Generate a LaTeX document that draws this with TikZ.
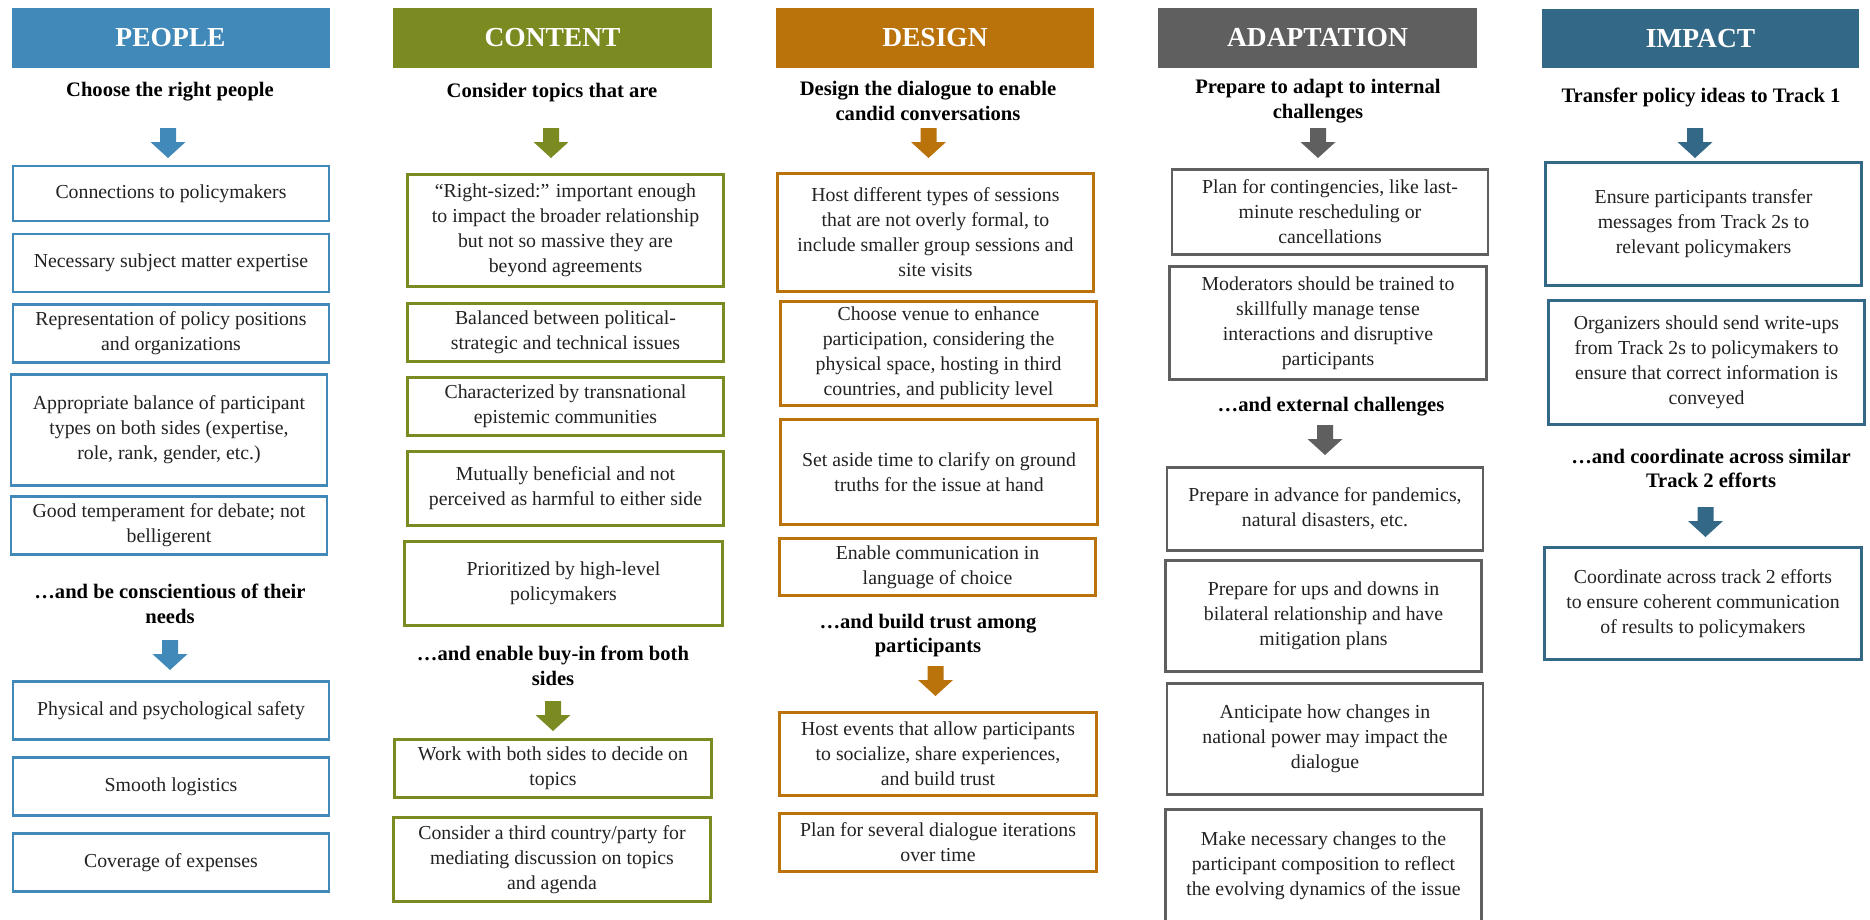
\documentclass[tikz,border=0pt]{standalone}
\usepackage{fontspec}
\setmainfont{Liberation Serif}
\usepackage{tikz}
\definecolor{pplc}{HTML}{4189B9}
\definecolor{cntc}{HTML}{7B8B22}
\definecolor{dsnc}{HTML}{BA720B}
\definecolor{adpc}{HTML}{5F5F5F}
\definecolor{impc}{HTML}{336887}
\definecolor{txtc}{HTML}{222222}
\newcommand{\bodysz}{\fontsize{19.8}{25}\selectfont}
\newcommand{\subsz}{\fontsize{20.6}{24.5}\selectfont}

\begin{document}
\begin{tikzpicture}[x=1pt,y=-1pt,
  hdr/.style={fill=#1,text=white,font=\fontsize{27.5}{32}\selectfont\bfseries,
    minimum width=318pt,minimum height=60pt,inner sep=0pt},
  sub/.style={font=\subsz\bfseries,align=center,inner sep=0pt,text=black},
  item/.style={draw=#1,line width=2.6pt,align=center,inner sep=1pt,
    font=\bodysz,text=txtc,minimum width=316pt},
  pics/blockdown/.style={code={
    \fill[#1] (-8,0) -- (8,0) -- (8,14) -- (17.5,14) -- (0,30) -- (-17.5,14) -- (-8,14) -- cycle;}}]
  \useasboundingbox (0,0) rectangle (1870,919);
  \clip (0,0) rectangle (1870,919);
  \fill[white] (0,0) rectangle (1870,919);

  % PEOPLE
  \node[hdr=pplc] (ph) at (170.5,38) {PEOPLE};
  \node[sub] (ps1) at (170,92) {Choose the right people};
  \pic at (168,128) {blockdown=pplc};
  \node[item=pplc,minimum height=55pt] (p1) at (171,193.5) {Connections to policymakers};
  \node[item=pplc,minimum height=58pt] (p2) at (171,263) {Necessary subject matter expertise};
  \node[item=pplc,minimum height=58pt] (p3) at (171,333.5) {Representation of policy positions\\and organizations};
  \node[item=pplc,minimum height=111pt] (p4) at (169,430) {Appropriate balance of participant\\types on both sides (expertise,\\role, rank, gender, etc.)};
  \node[item=pplc,minimum height=58pt] (p5) at (169,525.5) {Good temperament for debate; not\\belligerent};
  \node[sub] (ps2) at (170,604) {…and be conscientious of their\\needs};
  \pic at (170,640) {blockdown=pplc};
  \node[item=pplc,minimum height=58pt] (p6) at (171,710.5) {Physical and psychological safety};
  \node[item=pplc,minimum height=58pt] (p7) at (171,786.5) {Smooth logistics};
  \node[item=pplc,minimum height=58pt] (p8) at (171,862.5) {Coverage of expenses};

  % CONTENT
  \node[hdr=cntc,minimum width=319pt] (ch) at (552.5,38) {CONTENT};
  \node[sub] (cs1) at (552,93) {Consider topics that are};
  \pic at (551,128) {blockdown=cntc};
  \node[item=cntc,minimum height=112pt] (c1) at (565.5,230.5) {“Right-sized:” important enough\\to impact the broader relationship\\but not so massive they are\\beyond agreements};
  \node[item=cntc,minimum height=58pt] (c2) at (565.5,332.5) {Balanced between political-\\strategic and technical issues};
  \node[item=cntc,minimum height=58pt] (c3) at (565.5,406.5) {Characterized by transnational\\epistemic communities};
  \node[item=cntc,minimum height=74pt] (c4) at (565.5,488.5) {Mutually beneficial and not\\perceived as harmful to either side};
  \node[item=cntc,minimum height=84pt,minimum width=318pt] (c5) at (563.5,583.5) {Prioritized by high-level\\policymakers};
  \node[sub] (cs2) at (553,666) {…and enable buy-in from both\\sides};
  \pic at (553,701) {blockdown=cntc};
  \node[item=cntc,minimum height=58pt,minimum width=317pt] (c6) at (553,768.5) {Work with both sides to decide on\\topics};
  \node[item=cntc,minimum height=84pt,minimum width=317pt] (c7) at (552,859.5) {Consider a third country/party for\\mediating discussion on topics\\and agenda};

  % DESIGN
  \node[hdr=dsnc] (dh) at (935,38) {DESIGN};
  \node[sub] (ds1) at (928,101) {Design the dialogue to enable\\candid conversations};
  \pic at (928.5,128) {blockdown=dsnc};
  \node[item=dsnc,minimum height=118pt] (d1) at (935.5,232.5) {Host different types of sessions\\that are not overly formal, to\\include smaller group sessions and\\site visits};
  \node[item=dsnc,minimum height=104pt] (d2) at (938.5,353.5) {Choose venue to enhance\\participation, considering the\\physical space, hosting in third\\countries, and publicity level};
  \node[item=dsnc,minimum height=105pt,minimum width=317pt] (d3) at (939,472) {Set aside time to clarify on ground\\truths for the issue at hand};
  \node[item=dsnc,minimum height=57pt] (d4) at (937.5,567) {Enable communication in\\language of choice};
  \node[sub] (ds2) at (928,635.5) {…and build trust among\\participants};
  \pic at (935.5,666) {blockdown=dsnc};
  \node[item=dsnc,minimum height=83pt,minimum width=317pt] (d5) at (938,754) {Host events that allow participants\\to socialize, share experiences,\\and build trust};
  \node[item=dsnc,minimum height=58pt,minimum width=317pt] (d6) at (938,842.5) {Plan for several dialogue iterations\\over time};

  % ADAPTATION
  \node[hdr=adpc,minimum width=319pt] (ah) at (1317.5,38) {ADAPTATION};
  \node[sub] (as1) at (1318,101) {Prepare to adapt to internal\\challenges};
  \pic at (1318,128) {blockdown=adpc};
  \node[item=adpc,minimum height=85pt] (a1) at (1330,212) {Plan for contingencies, like last-\\minute rescheduling or\\cancellations};
  \node[item=adpc,minimum height=113pt,minimum width=317pt] (a2) at (1328,323) {Moderators should be trained to\\skillfully manage tense\\interactions and disruptive\\participants};
  \node[sub] (as2) at (1331,407) {…and external challenges};
  \pic at (1325,425) {blockdown=adpc};
  \node[item=adpc,minimum height=83pt] (a3) at (1325,509) {Prepare in advance for pandemics,\\natural disasters, etc.};
  \node[item=adpc,minimum height=111pt] (a4) at (1323.5,616) {Prepare for ups and downs in\\bilateral relationship and have\\mitigation plans};
  \node[item=adpc,minimum height=111pt] (a5) at (1325,739) {Anticipate how changes in\\national power may impact the\\dialogue};
  \node[item=adpc,minimum height=113pt] (a6) at (1323.5,866) {Make necessary changes to the\\participant composition to reflect\\the evolving dynamics of the issue};

  % IMPACT
  \node[hdr=impc,minimum width=317pt,minimum height=59pt] (ih) at (1700.5,38.5) {IMPACT};
  \node[sub] (is1) at (1701,97) {Transfer policy ideas to Track 1};
  \pic at (1695,128) {blockdown=impc};
  \node[item=impc,minimum height=123pt] (i1) at (1703.5,224) {Ensure participants transfer\\messages from Track 2s to\\relevant policymakers};
  \node[item=impc,minimum height=124pt] (i2) at (1706.5,362.5) {Organizers should send write-ups\\from Track 2s to policymakers to\\ensure that correct information is\\conveyed};
  \node[sub] (is2) at (1711,468.5) {…and coordinate across similar\\Track 2 efforts};
  \pic at (1705.5,507) {blockdown=impc};
  \node[item=impc,minimum height=112pt,minimum width=317pt] (i3) at (1703,603.5) {Coordinate across track 2 efforts\\to ensure coherent communication\\of results to policymakers};
\end{tikzpicture}
\end{document}
